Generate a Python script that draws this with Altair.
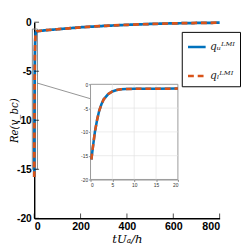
import altair as alt
import pandas as pd

# ---- data ----
t_vals = [0.2, 0.5, 1, 1.5, 2, 2.5, 3, 4, 5, 6, 7, 8, 10, 12, 15, 20,
          50, 100, 150, 200, 300, 400, 500, 600, 700, 800]
re_vals = [-15.8, -13.5, -10.0, -7.5, -5.5, -4.2, -3.2, -2.1, -1.5, -1.2, -1.05, -1.0,
           -0.95, -0.93, -0.92, -0.9, -0.82, -0.72, -0.62, -0.52, -0.38, -0.27,
           -0.18, -0.12, -0.08, -0.05]
series_names = ["qᵤᴸᴹᴵ", "qₗᴸᴹᴵ"]
series_colors = ["#0072BD", "#D95319"]
series_dash = [[1, 0], [6, 4]]

main_x_ticks = [0, 200, 400, 600, 800]
main_y_ticks = [-20, -15, -10, -5, 0]
inset_x_ticks = [0, 5, 10, 15, 20]
inset_y_ticks = [-20, -15, -10, -5, 0]

zoom_box = {"x0": [-8], "x1": [14], "y0": [-15], "y1": [-0.7]}
connector = {"xa": [12], "ya": [-6.2], "xb": [242], "yb": [-7.8]}
inset_box = {"x0": [0], "x1": [20], "y0": [-20], "y1": [0]}

W, H = 191, 202
PL = 27  # plot origin x = 8 + PL = 35

rows = []
for s in series_names:
    for t, v in zip(t_vals, re_vals):
        rows.append({"t": t, "v": v, "series": s})
df = pd.DataFrame(rows)
df_u = df[df.series == series_names[0]]
df_l = df[df.series == series_names[1]]
df_u_in = df_u[df_u.t <= 20]
df_l_in = df_l[df_l.t <= 20]

minus_fix = "replace(datum.label, '\u2212', '-')"

mx = alt.X("t:Q", scale=alt.Scale(domain=[0, 800], nice=False),
           axis=alt.Axis(values=main_x_ticks, title="tUₐ/h", ticks=False, grid=False,
                         labelFont="Liberation Sans", labelFontWeight="bold", labelFontSize=11,
                         labelColor="black", labelPadding=3, domainColor="black", domainWidth=1.5,
                         titleFont="DejaVu Serif", titleFontStyle="italic", titleFontWeight="normal",
                         titleFontSize=12, titleColor="black", titlePadding=2, labelExpr=minus_fix))
my = alt.Y("v:Q", scale=alt.Scale(domain=[-20, 0], nice=False),
           axis=alt.Axis(values=main_y_ticks, title="Re(v_bc)", ticks=False, grid=False,
                         labelFont="Liberation Sans", labelFontWeight="bold", labelFontSize=10.5,
                         labelColor="black", labelPadding=3, domainColor="black", domainWidth=1.5,
                         titleFont="DejaVu Serif", titleFontStyle="italic", titleFontWeight="normal",
                         titleFontSize=10.5, titleColor="black", titleX=-15, titleY=H / 2,
                         titleAngle=270, titleBaseline="bottom", titleAlign="center",
                         labelExpr=minus_fix))

leg = alt.Legend(title=None, orient="none", legendX=152, legendY=10, fillColor="white",
                 strokeColor="black", padding=5, cornerRadius=0, symbolType="stroke",
                 symbolStrokeWidth=2.5, symbolSize=330, rowPadding=14, labelFont="DejaVu Serif",
                 labelFontStyle="italic", labelFontSize=11, labelColor="#222", labelOffset=3)
color = alt.Color("series:N", scale=alt.Scale(domain=series_names, range=series_colors), legend=leg)
dash = alt.StrokeDash("series:N", scale=alt.Scale(domain=series_names, range=series_dash), legend=leg)

main_u = alt.Chart(df_u).mark_line(strokeWidth=2.8, clip=False).encode(x=mx, y=my, color=color, strokeDash=dash)
main_l = alt.Chart(df_l).mark_line(strokeWidth=2.8, clip=False).encode(x="t:Q", y="v:Q", color=color, strokeDash=dash)

xtick_df = pd.DataFrame({"t": main_x_ticks})
ytick_df = pd.DataFrame({"v": main_y_ticks})
xticks = alt.Chart(xtick_df).mark_tick(orient="vertical", size=5, thickness=1, color="black").encode(
    x="t:Q", y=alt.value(H - 2.5))
yticks = alt.Chart(ytick_df).mark_tick(orient="horizontal", size=5, thickness=1, color="black").encode(
    y="v:Q", x=alt.value(2.5))

zb = alt.Chart(pd.DataFrame(zoom_box)).mark_rect(fill=None, stroke="#888", strokeWidth=1, clip=False).encode(
    x="x0:Q", x2="x1:Q", y="y0:Q", y2="y1:Q")
conn = alt.Chart(pd.DataFrame(connector)).mark_rule(color="#777", strokeWidth=0.8).encode(
    x="xa:Q", y="ya:Q", x2="xb:Q", y2="yb:Q")

main_layer = alt.layer(zb, conn, main_u, main_l, xticks, yticks)

# ---- inset ----
IXR = [58, 148]
IYR = [162, 64]
ix_axis = alt.Axis(orient="bottom", offset=-40, values=inset_x_ticks, title=None, grid=False,
                   tickSize=2, tickColor="#888", labelFontSize=5, labelColor="#333",
                   labelPadding=1, domainColor="#888", domainWidth=1, labelExpr=minus_fix)
iy_axis = alt.Axis(orient="left", offset=-IXR[0], values=inset_y_ticks, title=None, grid=False,
                   tickSize=2, tickColor="#888", labelFontSize=5, labelColor="#333",
                   labelPadding=1, domainColor="#888", domainWidth=1, labelExpr=minus_fix)

ibox = alt.Chart(pd.DataFrame(inset_box)).mark_rect(fill="white", stroke="#999", strokeWidth=1).encode(
    x=alt.X("x0:Q", scale=alt.Scale(domain=[0, 20], range=IXR, nice=False), axis=ix_axis),
    x2="x1:Q",
    y=alt.Y("y0:Q", scale=alt.Scale(domain=[-20, 0], range=IYR, nice=False), axis=iy_axis),
    y2="y1:Q")
igx = alt.Chart(pd.DataFrame({"t": inset_x_ticks[1:-1]})).mark_rule(color="#e3e3e3", strokeWidth=0.7).encode(
    x="t:Q", y=alt.datum(-20), y2=alt.datum(0))
igy = alt.Chart(pd.DataFrame({"v": inset_y_ticks[1:-1]})).mark_rule(color="#e3e3e3", strokeWidth=0.7).encode(
    y="v:Q", x=alt.datum(0), x2=alt.datum(20))
in_u = alt.Chart(df_u_in).mark_line(strokeWidth=2.6, color=series_colors[0]).encode(x="t:Q", y="v:Q")
in_l = alt.Chart(df_l_in).mark_line(strokeWidth=2.6, color=series_colors[1], strokeDash=series_dash[1]).encode(
    x="t:Q", y="v:Q")

inset_layer = alt.layer(ibox, igx, igy, in_u, in_l)

chart = alt.layer(main_layer, inset_layer).resolve_scale(
    x="independent", y="independent"
).properties(
    width=W, height=H,
    autosize=alt.AutoSizeParams(type="none"),
    padding={"left": PL, "top": 11, "right": 22, "bottom": 28},
).configure_view(stroke=None)

chart.save("out.html", embed_options={"renderer": "svg", "actions": False})
